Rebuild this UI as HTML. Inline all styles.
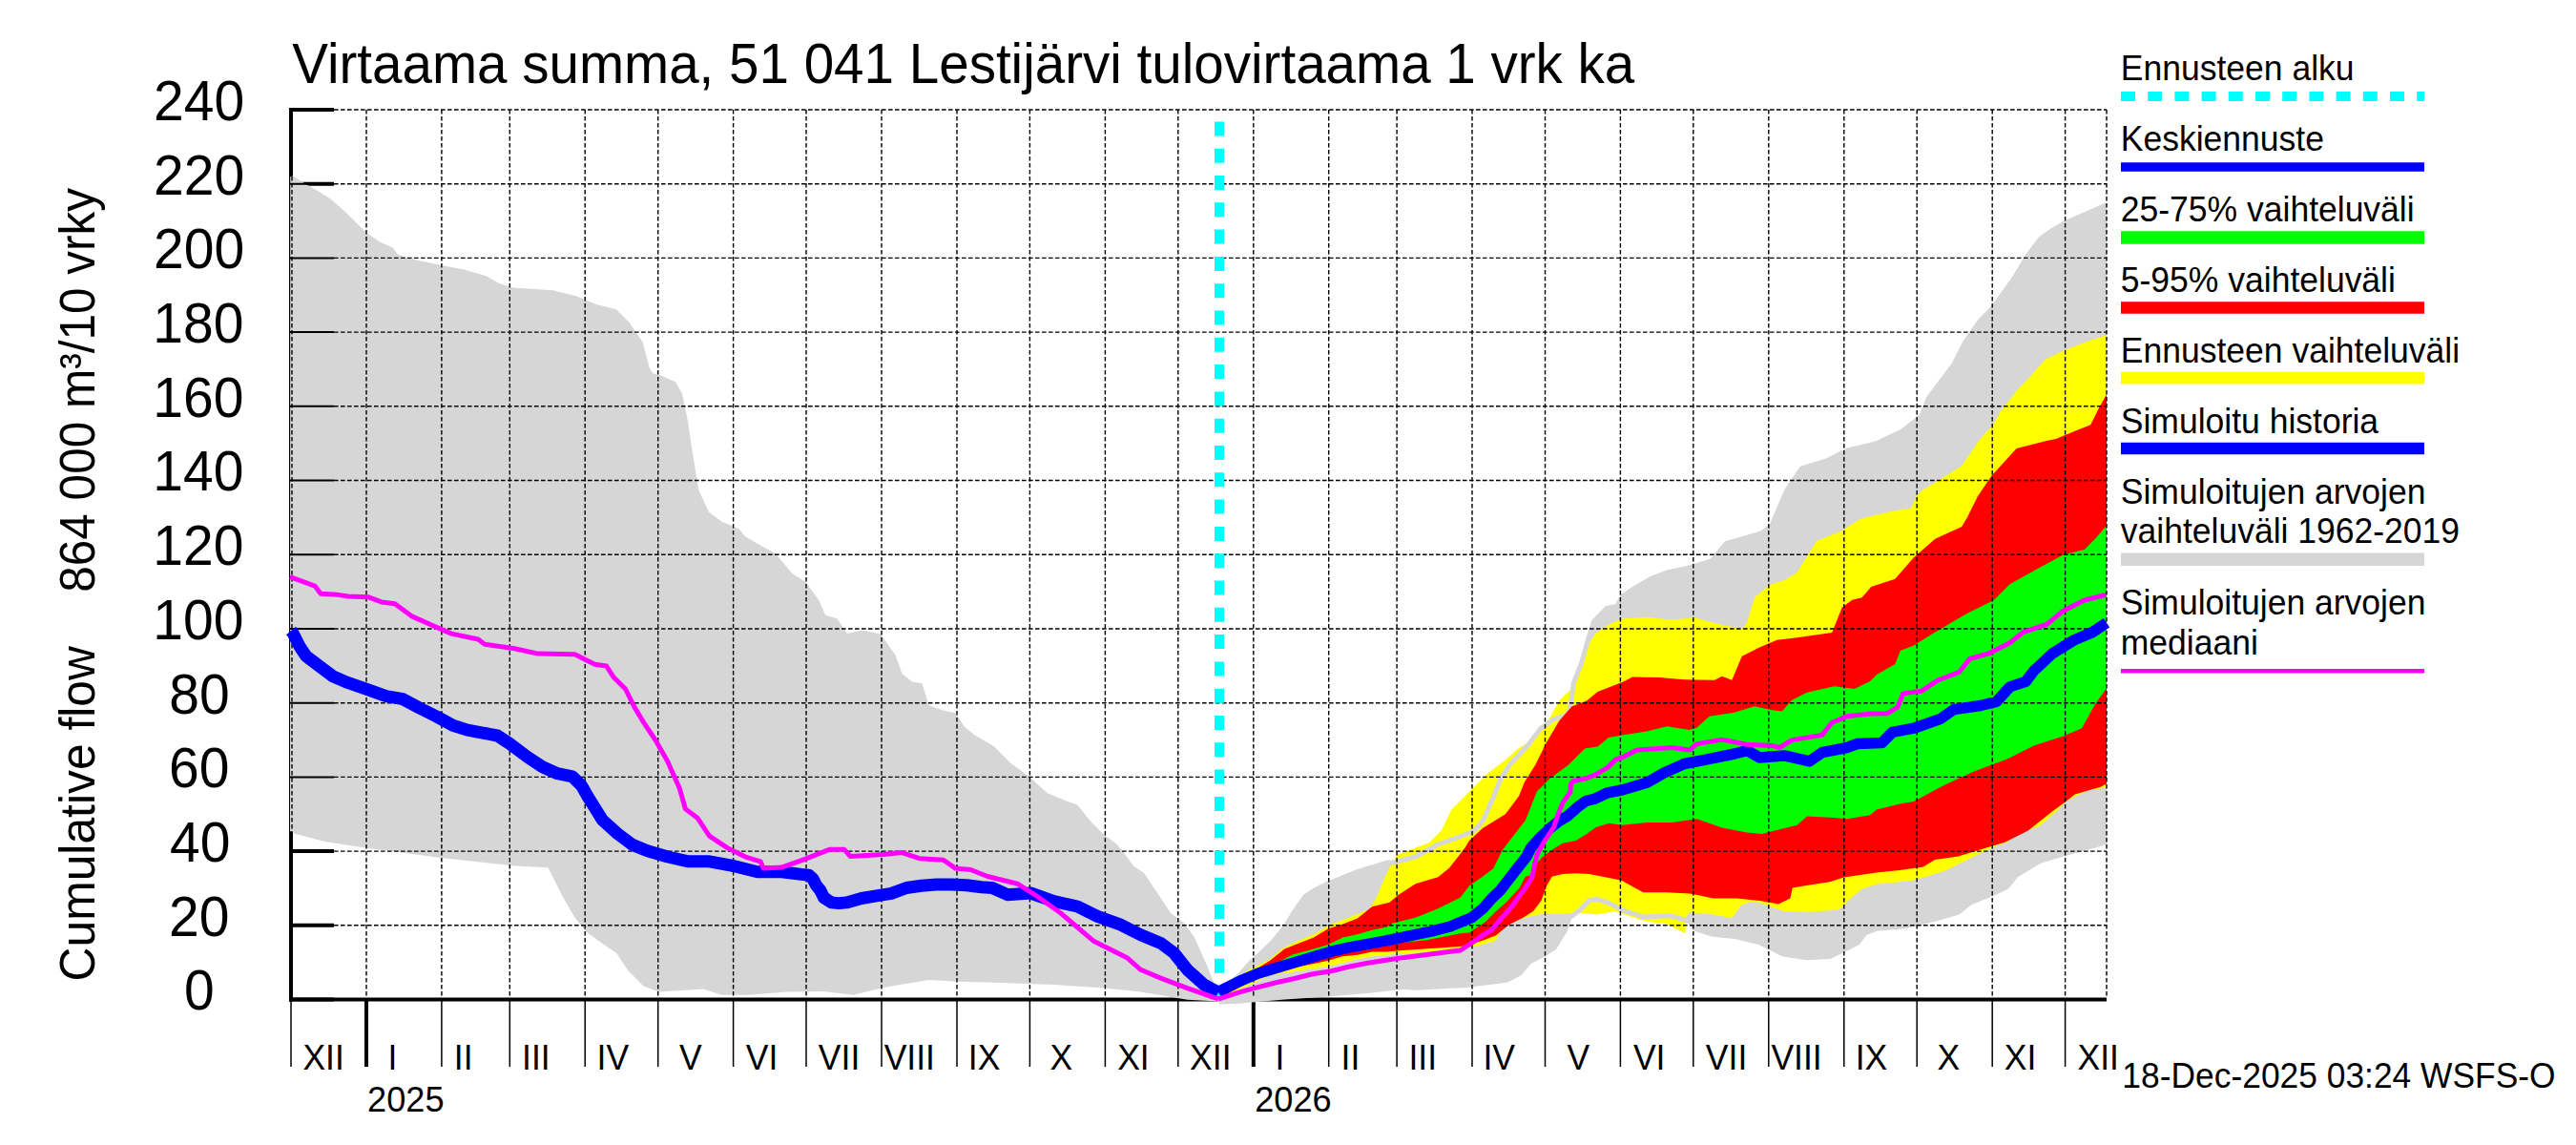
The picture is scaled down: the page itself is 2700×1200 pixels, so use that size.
<!DOCTYPE html><html><head><meta charset="utf-8"><title>Virtaama summa, 51 041 Lestijärvi</title><style>html,body{margin:0;padding:0;background:#fff;}svg{display:block;}text{font-family:"Liberation Sans",Arial,Helvetica,sans-serif;fill:#000;}</style></head><body>
<svg width="2700" height="1200" viewBox="0 0 2700 1200">
<rect width="2700" height="1200" fill="#fff"/>
<g stroke="#000" stroke-width="4" fill="none">
<line x1="305" y1="113" x2="305" y2="1049.5"/>
<line x1="303" y1="1047.5" x2="2208" y2="1047.5"/>
<line x1="303" y1="1047.5" x2="350" y2="1047.5"/>
<line x1="303" y1="969.8" x2="350" y2="969.8"/>
<line x1="303" y1="892.1" x2="350" y2="892.1"/>
<line x1="303" y1="814.4" x2="350" y2="814.4"/>
<line x1="303" y1="736.7" x2="350" y2="736.7"/>
<line x1="303" y1="659.0" x2="350" y2="659.0"/>
<line x1="303" y1="581.3" x2="350" y2="581.3"/>
<line x1="303" y1="503.5" x2="350" y2="503.5"/>
<line x1="303" y1="425.8" x2="350" y2="425.8"/>
<line x1="303" y1="348.1" x2="350" y2="348.1"/>
<line x1="303" y1="270.4" x2="350" y2="270.4"/>
<line x1="303" y1="192.7" x2="350" y2="192.7"/>
<line x1="303" y1="115.0" x2="350" y2="115.0"/>
<line x1="384.0" y1="1047.5" x2="384.0" y2="1118"/>
<line x1="1313.8" y1="1047.5" x2="1313.8" y2="1118"/>
</g>
<g stroke="#000" stroke-width="1.5">
<line x1="305.0" y1="1049" x2="305.0" y2="1118"/>
<line x1="462.9" y1="1049" x2="462.9" y2="1118"/>
<line x1="534.3" y1="1049" x2="534.3" y2="1118"/>
<line x1="613.2" y1="1049" x2="613.2" y2="1118"/>
<line x1="689.7" y1="1049" x2="689.7" y2="1118"/>
<line x1="768.6" y1="1049" x2="768.6" y2="1118"/>
<line x1="845.0" y1="1049" x2="845.0" y2="1118"/>
<line x1="924.0" y1="1049" x2="924.0" y2="1118"/>
<line x1="1003.0" y1="1049" x2="1003.0" y2="1118"/>
<line x1="1079.4" y1="1049" x2="1079.4" y2="1118"/>
<line x1="1158.4" y1="1049" x2="1158.4" y2="1118"/>
<line x1="1234.8" y1="1049" x2="1234.8" y2="1118"/>
<line x1="1392.7" y1="1049" x2="1392.7" y2="1118"/>
<line x1="1464.1" y1="1049" x2="1464.1" y2="1118"/>
<line x1="1543.0" y1="1049" x2="1543.0" y2="1118"/>
<line x1="1619.5" y1="1049" x2="1619.5" y2="1118"/>
<line x1="1698.4" y1="1049" x2="1698.4" y2="1118"/>
<line x1="1774.8" y1="1049" x2="1774.8" y2="1118"/>
<line x1="1853.8" y1="1049" x2="1853.8" y2="1118"/>
<line x1="1932.8" y1="1049" x2="1932.8" y2="1118"/>
<line x1="2009.2" y1="1049" x2="2009.2" y2="1118"/>
<line x1="2088.2" y1="1049" x2="2088.2" y2="1118"/>
<line x1="2164.6" y1="1049" x2="2164.6" y2="1118"/>
</g>
<polygon points="304.2,185.2 307.0,184.5 321.0,193.2 335.0,201.2 347.2,208.9 362.9,222.9 383.1,243.1 397.8,253.6 411.8,259.6 417.0,266.5 429.3,271.1 462.4,278.1 485.2,282.3 509.6,289.3 523.6,297.3 537.6,301.5 579.5,304.3 603.9,310.2 624.9,319.0 645.9,324.2 659.8,338.2 673.8,359.1 680.8,386.0 684.3,391.3 694.0,393.9 708.0,400.2 715.0,412.4 720.2,436.9 725.4,471.8 732.4,513.7 742.9,536.4 756.9,546.9 774.3,553.9 781.3,562.6 798.8,572.4 812.8,580.1 830.2,601.0 844.2,609.8 858.2,629.0 865.2,644.7 877.4,648.2 887.9,663.9 903.6,660.4 922.8,664.6 938.5,686.6 945.5,705.9 956.0,714.6 966.5,716.3 973.5,739.0 987.4,744.3 1001.4,747.2 1010.5,761.3 1021.0,770.0 1041.9,782.3 1059.4,799.7 1078.6,813.7 1097.8,831.2 1118.8,839.9 1129.3,843.4 1143.2,860.9 1157.2,874.8 1171.2,885.3 1188.6,908.0 1199.1,915.0 1213.1,936.0 1227.1,957.0 1241.0,967.4 1251.5,981.4 1265.5,1012.8 1276.0,1039.0 1278.0,1044.0 1290.0,1030.0 1300.6,1020.6 1311.3,1008.3 1323.5,997.6 1334.2,987.0 1347.9,970.1 1357.1,954.9 1367.8,939.6 1377.0,933.5 1392.2,925.8 1407.5,919.7 1422.8,913.6 1438.1,909.0 1453.3,904.0 1460.0,904.0 1483.6,898.0 1507.2,885.0 1530.8,876.8 1544.9,870.9 1554.3,860.3 1563.8,839.1 1573.2,815.5 1582.6,801.3 1601.5,781.0 1615.0,763.3 1628.4,753.7 1641.9,749.8 1645.7,742.1 1649.5,715.3 1657.2,696.0 1664.9,669.2 1670.7,651.0 1684.1,637.5 1694.7,635.5 1700.4,625.0 1714.9,615.4 1730.2,606.7 1747.2,600.0 1767.7,595.7 1793.9,587.8 1809.6,569.5 1846.3,559.0 1856.8,551.2 1872.5,514.5 1888.3,490.9 1914.5,483.0 1935.4,472.5 1966.9,464.7 1993.6,452.0 2014.1,436.2 2020.9,418.0 2048.1,381.7 2059.5,359.0 2075.4,336.2 2089.0,322.6 2100.3,306.7 2111.7,290.8 2125.3,268.1 2138.9,250.0 2150.3,242.0 2163.9,234.1 2184.4,225.0 2208.0,214.8 2208.0,882.7 2162.5,895.0 2138.1,902.3 2113.6,917.0 2103.8,929.2 2089.1,936.5 2064.7,946.3 2052.5,956.1 2028.0,963.4 1996.2,970.8 1966.9,973.2 1954.6,978.1 1947.3,987.9 1932.6,995.2 1918.0,1002.6 1893.5,1003.8 1869.0,1000.1 1844.6,987.9 1820.1,981.8 1795.7,979.3 1776.1,973.2 1771.2,965.9 1751.6,959.8 1722.3,961.0 1700.0,953.6 1686.7,946.6 1674.2,942.4 1665.8,943.8 1654.6,955.0 1644.8,962.0 1640.6,974.6 1629.4,992.8 1616.9,1001.1 1602.9,1008.1 1593.1,1020.0 1579.2,1027.3 1537.2,1032.5 1484.8,1035.2 1470.0,1034.3 1438.1,1038.1 1392.2,1042.0 1346.4,1045.0 1297.5,1049.3 1278.0,1050.0 1276.0,1049.5 1244.5,1047.8 1223.6,1044.3 1192.1,1039.0 1157.2,1035.6 1104.8,1032.0 1034.9,1029.6 1000.0,1028.6 973.1,1027.0 925.9,1034.9 894.5,1042.8 863.0,1039.0 825.3,1039.6 784.4,1042.8 756.1,1042.8 737.2,1036.5 690.1,1039.6 674.3,1033.3 658.6,1017.6 646.0,998.7 636.6,992.5 614.6,976.7 602.0,961.0 589.4,939.0 581.5,923.3 574.5,909.3 539.5,907.6 462.7,898.9 382.3,888.4 340.4,882.1 309.0,873.7 304.0,870.9" fill="#d6d6d6"/>
<polygon points="1278.0,1044.0 1300.6,1020.6 1315.8,1012.9 1331.1,1005.3 1343.3,994.6 1361.7,985.4 1377.0,979.3 1392.2,970.1 1407.5,964.0 1422.8,957.9 1435.0,953.3 1442.6,941.1 1448.8,925.8 1456.4,909.0 1464.7,895.7 1483.6,888.6 1497.9,883.2 1511.0,870.1 1521.3,848.5 1535.5,834.3 1559.1,810.8 1577.9,796.6 1590.0,785.4 1599.6,779.6 1610.9,768.3 1624.6,751.7 1634.2,734.5 1645.7,722.9 1655.0,700.0 1665.0,675.0 1672.6,663.4 1686.0,654.7 1700.0,648.5 1726.2,646.7 1752.4,649.8 1776.0,647.2 1799.6,653.7 1825.8,659.0 1831.1,652.4 1838.9,626.2 1854.7,613.1 1870.4,607.9 1883.5,600.0 1904.0,566.9 1930.2,556.4 1950.0,543.8 1978.0,536.8 2003.1,532.6 2008.7,520.0 2014.0,514.5 2035.0,501.4 2056.0,488.3 2075.4,460.0 2089.0,445.2 2098.1,429.3 2107.2,418.0 2116.2,406.6 2125.3,397.5 2143.5,377.1 2161.6,368.0 2184.4,359.0 2208.0,351.0 2208.0,825.2 2187.0,828.9 2165.0,839.9 2157.6,848.5 2138.1,865.6 2113.6,874.2 2103.8,882.7 2089.1,887.6 2064.7,899.8 2040.2,912.1 2020.7,918.2 2003.5,923.1 1966.9,926.7 1952.2,931.6 1942.4,939.0 1932.6,948.8 1927.7,953.6 1893.5,956.1 1869.0,954.9 1844.6,946.3 1834.8,945.1 1825.0,948.8 1815.2,962.2 1795.7,958.5 1771.2,956.1 1768.0,960.0 1766.3,978.1 1761.4,975.7 1746.7,968.3 1727.2,965.9 1710.1,961.0 1692.9,954.9 1673.4,958.5 1654.6,956.4 1637.8,957.8 1616.9,957.8 1602.9,960.6 1588.9,964.8 1574.9,971.8 1568.0,985.8 1554.0,990.0 1540.0,992.8 1530.8,996.0 1470.0,999.2 1453.3,1000.7 1438.1,1002.2 1422.8,1005.3 1392.2,1012.9 1361.7,1017.5 1331.1,1022.1 1278.0,1047.0" fill="#ffff00"/>
<polyline points="1278.0,1044.0 1290.0,1030.0 1300.6,1020.6 1311.3,1008.3 1323.5,997.6 1334.2,987.0 1347.9,970.1 1357.1,954.9 1367.8,939.6 1377.0,933.5 1392.2,925.8 1407.5,919.7 1422.8,913.6 1438.1,909.0 1453.3,904.0 1460.0,904.0 1483.6,898.0 1507.2,885.0 1530.8,876.8 1544.9,870.9 1554.3,860.3 1563.8,839.1 1573.2,815.5 1582.6,801.3 1601.5,781.0 1615.0,763.3 1628.4,753.7 1641.9,749.8 1645.7,742.1 1649.5,715.3 1657.2,696.0 1664.9,669.2 1670.7,651.0 1684.1,637.5 1694.7,635.5 1700.4,625.0 1714.9,615.4 1730.2,606.7 1747.2,600.0 1767.7,595.7 1793.9,587.8 1809.6,569.5 1846.3,559.0 1856.8,551.2 1872.5,514.5 1888.3,490.9 1914.5,483.0 1935.4,472.5 1966.9,464.7 1993.6,452.0 2014.1,436.2 2020.9,418.0 2048.1,381.7 2059.5,359.0 2075.4,336.2 2089.0,322.6 2100.3,306.7 2111.7,290.8 2125.3,268.1 2138.9,250.0 2150.3,242.0 2163.9,234.1 2184.4,225.0 2208.0,214.8" fill="none" stroke="#d6d6d6" stroke-width="5" stroke-linejoin="round"/>
<polyline points="1278.0,1050.0 1297.5,1049.3 1346.4,1045.0 1392.2,1042.0 1438.1,1038.1 1470.0,1034.3 1484.8,1035.2 1537.2,1032.5 1579.2,1027.3 1593.1,1020.0 1602.9,1008.1 1616.9,1001.1 1629.4,992.8 1640.6,974.6 1644.8,962.0 1654.6,955.0 1665.8,943.8 1674.2,942.4 1686.7,946.6 1700.0,953.6 1722.3,961.0 1751.6,959.8 1771.2,965.9 1776.1,973.2 1795.7,979.3 1820.1,981.8 1844.6,987.9 1869.0,1000.1 1893.5,1003.8 1918.0,1002.6 1932.6,995.2 1947.3,987.9 1954.6,978.1 1966.9,973.2 1996.2,970.8 2028.0,963.4 2052.5,956.1 2064.7,946.3 2089.1,936.5 2103.8,929.2 2113.6,917.0 2138.1,902.3 2162.5,895.0 2208.0,882.7" fill="none" stroke="#d6d6d6" stroke-width="5" stroke-linejoin="round"/>
<polygon points="1278.0,1044.0 1300.0,1025.0 1315.8,1016.0 1331.1,1006.8 1346.4,994.6 1361.7,988.5 1377.0,982.4 1392.2,973.2 1407.5,968.6 1422.8,962.5 1438.1,950.3 1456.4,945.7 1465.6,938.1 1483.6,926.3 1507.2,919.2 1519.0,909.8 1535.5,888.6 1540.0,881.0 1554.0,868.0 1577.9,853.2 1592.1,834.3 1597.7,820.0 1609.2,801.7 1620.7,778.6 1634.2,755.6 1647.6,740.2 1663.0,734.5 1674.5,724.9 1689.9,719.1 1701.4,714.5 1711.0,709.5 1739.3,710.1 1765.5,712.2 1797.0,712.7 1804.9,708.8 1815.3,712.7 1825.8,687.8 1844.2,678.6 1862.5,670.8 1883.5,668.2 1920.2,662.9 1930.7,636.7 1941.2,628.8 1951.6,626.2 1961.2,615.0 1986.3,606.7 2005.9,584.3 2028.3,564.7 2056.2,552.1 2061.8,542.4 2073.0,520.0 2087.4,498.7 2113.6,469.9 2145.1,462.1 2154.8,460.0 2179.8,449.8 2191.2,445.2 2200.3,427.1 2208.0,413.4 2208.0,821.6 2201.6,824.7 2174.8,832.6 2165.3,840.0 2150.3,850.9 2125.8,870.5 2101.4,882.7 2076.9,890.1 2052.5,897.4 2028.0,901.1 2015.8,908.4 1991.3,912.1 1966.9,914.5 1932.6,919.4 1918.0,924.3 1893.5,928.0 1878.8,930.4 1876.4,941.4 1864.1,947.5 1844.6,943.9 1820.1,941.4 1795.7,941.4 1771.2,936.5 1746.7,935.3 1722.3,935.3 1700.0,922.9 1693.7,921.5 1679.7,918.7 1665.8,915.9 1651.8,915.2 1637.8,915.9 1626.6,918.7 1621.0,928.5 1615.5,943.8 1607.1,955.0 1595.9,962.0 1581.9,969.0 1568.0,980.2 1554.0,985.8 1540.0,990.0 1530.8,992.0 1470.0,996.1 1453.3,997.6 1438.1,997.6 1422.8,1000.7 1407.5,1002.2 1392.2,1006.8 1377.0,1009.9 1361.7,1012.9 1346.4,1017.5 1323.5,1022.1 1278.0,1046.0" fill="#ff0000"/>
<polygon points="1278.0,1044.0 1300.0,1030.0 1354.0,1000.7 1377.0,994.6 1392.2,990.0 1407.5,982.4 1422.8,979.3 1438.1,974.7 1453.3,971.7 1460.0,967.6 1483.6,961.7 1507.2,952.3 1530.8,940.5 1540.0,928.5 1554.0,918.7 1565.2,910.3 1574.9,890.7 1588.9,872.6 1598.7,860.0 1601.5,853.2 1610.9,829.6 1625.1,815.5 1643.8,801.7 1661.1,784.4 1674.5,782.5 1686.0,772.9 1700.0,770.4 1726.2,766.4 1747.2,761.2 1770.8,765.1 1778.6,762.5 1791.7,750.7 1818.0,746.8 1838.9,740.2 1857.3,744.2 1867.8,745.5 1878.2,733.7 1894.0,725.8 1922.8,719.3 1943.8,721.9 1960.0,714.0 1966.8,707.3 1986.3,696.1 1991.9,682.1 2005.9,676.6 2028.3,662.6 2042.3,654.2 2061.8,643.0 2089.8,629.0 2106.6,612.3 2131.7,598.3 2162.5,581.5 2184.8,575.9 2196.0,564.7 2208.0,550.8 2208.0,721.3 2196.0,738.1 2182.0,763.2 2162.5,771.6 2131.7,781.4 2103.8,795.4 2070.2,808.0 2039.5,821.9 2005.9,840.0 1991.3,842.4 1966.9,848.5 1960.0,854.3 1935.9,858.2 1922.8,856.9 1894.0,855.6 1883.5,864.7 1857.3,871.3 1846.8,873.9 1831.1,872.6 1804.9,867.4 1778.6,858.2 1752.4,862.1 1726.2,862.1 1700.0,864.7 1686.7,862.8 1672.8,867.0 1663.0,874.0 1651.8,881.0 1637.8,883.8 1630.8,887.9 1623.8,892.8 1615.5,899.1 1609.9,906.1 1604.3,917.3 1598.7,918.7 1593.1,929.9 1579.1,945.2 1568.0,955.0 1556.8,966.2 1540.0,977.4 1530.8,978.2 1495.4,985.3 1470.0,987.7 1453.3,990.0 1438.1,993.1 1422.8,995.4 1407.5,997.6 1377.0,1003.8 1300.0,1032.0 1278.0,1045.0" fill="#00ff00"/>
<g stroke="#000" stroke-width="1.4" stroke-dasharray="4.6 2.4" fill="none">
<line x1="350" y1="969.8" x2="2208" y2="969.8"/>
<line x1="350" y1="892.1" x2="2208" y2="892.1"/>
<line x1="350" y1="814.4" x2="2208" y2="814.4"/>
<line x1="350" y1="736.7" x2="2208" y2="736.7"/>
<line x1="350" y1="659.0" x2="2208" y2="659.0"/>
<line x1="350" y1="581.3" x2="2208" y2="581.3"/>
<line x1="350" y1="503.5" x2="2208" y2="503.5"/>
<line x1="350" y1="425.8" x2="2208" y2="425.8"/>
<line x1="350" y1="348.1" x2="2208" y2="348.1"/>
<line x1="350" y1="270.4" x2="2208" y2="270.4"/>
<line x1="350" y1="192.7" x2="2208" y2="192.7"/>
<line x1="350" y1="115.0" x2="2208" y2="115.0"/>
<line x1="384.0" y1="115" x2="384.0" y2="1046"/>
<line x1="462.9" y1="115" x2="462.9" y2="1046"/>
<line x1="534.3" y1="115" x2="534.3" y2="1046"/>
<line x1="613.2" y1="115" x2="613.2" y2="1046"/>
<line x1="689.7" y1="115" x2="689.7" y2="1046"/>
<line x1="768.6" y1="115" x2="768.6" y2="1046"/>
<line x1="845.0" y1="115" x2="845.0" y2="1046"/>
<line x1="924.0" y1="115" x2="924.0" y2="1046"/>
<line x1="1003.0" y1="115" x2="1003.0" y2="1046"/>
<line x1="1079.4" y1="115" x2="1079.4" y2="1046"/>
<line x1="1158.4" y1="115" x2="1158.4" y2="1046"/>
<line x1="1234.8" y1="115" x2="1234.8" y2="1046"/>
<line x1="1313.8" y1="115" x2="1313.8" y2="1046"/>
<line x1="1392.7" y1="115" x2="1392.7" y2="1046"/>
<line x1="1464.1" y1="115" x2="1464.1" y2="1046"/>
<line x1="1543.0" y1="115" x2="1543.0" y2="1046"/>
<line x1="1619.5" y1="115" x2="1619.5" y2="1046"/>
<line x1="1698.4" y1="115" x2="1698.4" y2="1046"/>
<line x1="1774.8" y1="115" x2="1774.8" y2="1046"/>
<line x1="1853.8" y1="115" x2="1853.8" y2="1046"/>
<line x1="1932.8" y1="115" x2="1932.8" y2="1046"/>
<line x1="2009.2" y1="115" x2="2009.2" y2="1046"/>
<line x1="2088.2" y1="115" x2="2088.2" y2="1046"/>
<line x1="2164.6" y1="115" x2="2164.6" y2="1046"/>
<line x1="2208" y1="115" x2="2208" y2="1046"/>
<line x1="306" y1="115" x2="306" y2="1046"/>
</g>
<g stroke="#000" stroke-width="2">
<line x1="303" y1="1047.5" x2="350" y2="1047.5"/>
<line x1="303" y1="969.8" x2="350" y2="969.8"/>
<line x1="303" y1="892.1" x2="350" y2="892.1"/>
<line x1="303" y1="814.4" x2="350" y2="814.4"/>
<line x1="303" y1="736.7" x2="350" y2="736.7"/>
<line x1="303" y1="659.0" x2="350" y2="659.0"/>
<line x1="303" y1="581.3" x2="350" y2="581.3"/>
<line x1="303" y1="503.5" x2="350" y2="503.5"/>
<line x1="303" y1="425.8" x2="350" y2="425.8"/>
<line x1="303" y1="348.1" x2="350" y2="348.1"/>
<line x1="303" y1="270.4" x2="350" y2="270.4"/>
<line x1="303" y1="192.7" x2="350" y2="192.7"/>
<line x1="303" y1="115.0" x2="350" y2="115.0"/>
</g>
<line x1="1278" y1="1048" x2="1278" y2="115" stroke="#00ffff" stroke-width="10" stroke-dasharray="15 13.3"/>
<polyline points="305.0,661.0 307.0,663.4 314.0,677.3 321.0,687.8 334.9,698.3 348.9,708.8 362.9,714.9 383.8,722.2 404.8,729.7 422.3,732.7 439.7,742.0 457.2,750.7 474.7,760.3 490.0,765.1 521.4,771.0 534.0,779.3 552.9,793.4 568.6,803.7 584.3,810.7 600.0,813.9 609.5,823.3 615.7,834.3 623.6,846.9 631.5,859.5 647.2,873.6 662.9,885.4 678.6,891.7 700.0,898.0 721.5,902.8 743.5,902.8 768.7,907.5 793.8,913.8 819.0,913.8 840.0,916.4 847.9,917.2 852.0,921.0 855.7,928.2 859.7,933.0 863.6,940.8 871.4,945.9 879.3,946.6 887.2,945.9 902.9,941.5 918.6,938.8 934.3,936.4 950.1,930.5 965.8,928.2 981.5,927.0 997.2,927.0 1013.0,927.8 1028.7,929.7 1040.0,930.5 1055.9,937.7 1080.3,936.0 1104.8,944.7 1129.3,950.0 1150.2,960.4 1174.7,969.2 1195.6,979.7 1216.6,988.4 1230.6,998.9 1244.5,1016.3 1262.0,1032.0 1277.0,1040.0" fill="none" stroke="#0000ff" stroke-width="13" stroke-linejoin="round"/>
<polyline points="1277.0,1040.0 1280.0,1038.0 1299.2,1028.4 1318.4,1020.3 1337.6,1014.5 1356.8,1008.7 1376.0,1003.0 1395.3,997.2 1414.5,992.8 1433.7,989.3 1452.9,985.8 1472.0,981.8 1500.0,976.1 1520.0,971.0 1542.5,961.7 1555.0,951.6 1563.7,941.5 1572.4,933.3 1581.1,921.9 1589.9,910.6 1600.0,897.9 1604.6,888.5 1614.2,877.9 1623.8,868.8 1633.4,861.0 1643.0,855.3 1652.6,846.7 1662.2,839.5 1671.8,837.1 1685.0,830.8 1700.0,828.0 1726.2,820.2 1744.6,809.7 1765.5,800.5 1791.7,795.3 1818.0,790.0 1831.1,786.6 1844.2,794.0 1870.4,791.9 1896.6,797.9 1909.7,788.7 1935.9,783.5 1946.4,779.6 1972.4,778.6 1983.5,767.4 2005.9,763.2 2033.9,753.4 2047.8,743.6 2075.8,739.5 2092.6,735.3 2106.6,719.9 2123.3,714.3 2131.7,703.1 2151.3,684.9 2173.6,671.0 2193.2,662.6 2208.0,652.8" fill="none" stroke="#0000ff" stroke-width="11.5" stroke-linejoin="round"/>
<polyline points="304.0,604.7 330.0,614.1 336.2,622.2 350.9,622.9 364.9,625.0 385.8,625.7 399.8,630.9 413.8,632.7 431.2,645.6 452.2,655.0 473.2,664.1 501.1,670.0 508.1,675.3 539.5,679.8 564.0,685.1 602.4,685.8 623.4,696.2 635.6,698.0 642.9,709.4 655.5,722.0 664.9,740.9 674.3,756.6 686.9,775.5 699.5,797.5 712.1,825.8 718.4,847.8 731.0,857.2 743.5,876.1 762.4,888.7 781.3,898.1 797.0,902.8 800.1,910.1 819.0,909.1 841.0,901.3 869.3,890.3 885.0,890.3 891.3,897.5 925.9,895.6 944.8,893.4 963.6,899.7 988.8,901.3 1001.4,910.1 1017.5,911.5 1035.0,918.5 1066.4,926.2 1087.3,939.5 1111.8,957.0 1146.7,986.6 1181.7,1004.1 1195.6,1016.3 1216.6,1025.1 1244.5,1035.6 1277.0,1047.0" fill="none" stroke="#ff00ff" stroke-width="5" stroke-linejoin="round"/>
<polyline points="1277.0,1047.0 1285.3,1044.3 1299.2,1039.9 1318.4,1034.6 1337.6,1029.8 1356.8,1025.5 1376.0,1020.7 1395.3,1017.8 1414.5,1013.0 1433.7,1009.2 1452.9,1006.3 1472.1,1003.4 1495.4,1000.6 1530.8,995.9 1540.0,990.0 1555.0,979.6 1563.7,974.3 1572.4,963.8 1581.1,954.2 1589.9,942.9 1598.6,930.7 1605.7,920.1 1608.5,906.1 1611.3,894.9 1619.0,881.3 1628.6,866.8 1633.4,852.4 1638.2,840.9 1645.9,830.3 1646.5,821.7 1648.8,818.8 1662.2,815.9 1671.8,812.1 1685.0,804.4 1693.7,795.9 1700.0,794.0 1715.7,786.1 1752.4,783.5 1770.8,786.1 1778.6,779.6 1804.9,775.1 1831.1,780.3 1857.3,781.4 1865.1,783.5 1878.2,775.6 1909.7,770.4 1920.2,757.3 1935.9,750.7 1960.0,748.1 1978.0,747.8 1989.1,740.9 1994.7,726.9 2014.3,724.1 2031.1,712.9 2053.4,704.5 2064.6,690.5 2084.2,684.9 2106.6,673.8 2120.5,662.6 2145.7,654.2 2162.5,640.2 2184.8,629.0 2207.2,623.4" fill="none" stroke="#ff00ff" stroke-width="5" stroke-linejoin="round"/>
<text transform="translate(306.23,86.80) scale(1.0000,1.0500)" font-size="56.56">Virtaama summa, 51 041 Lestijärvi tulovirtaama 1 vrk ka</text>
<text transform="translate(193.04,1058.40) scale(1.0000,1.0300)" font-size="57">0</text>
<text transform="translate(177.08,980.69) scale(1.0000,1.0300)" font-size="57">20</text>
<text transform="translate(177.94,902.98) scale(1.0000,1.0300)" font-size="57">40</text>
<text transform="translate(177.08,825.28) scale(1.0000,1.0300)" font-size="57">60</text>
<text transform="translate(177.37,747.57) scale(1.0000,1.0300)" font-size="57">80</text>
<text transform="translate(160.27,669.86) scale(1.0000,1.0300)" font-size="57">100</text>
<text transform="translate(160.27,592.15) scale(1.0000,1.0300)" font-size="57">120</text>
<text transform="translate(160.27,514.44) scale(1.0000,1.0300)" font-size="57">140</text>
<text transform="translate(160.27,436.74) scale(1.0000,1.0300)" font-size="57">160</text>
<text transform="translate(160.27,359.03) scale(1.0000,1.0300)" font-size="57">180</text>
<text transform="translate(161.12,281.32) scale(1.0000,1.0300)" font-size="57">200</text>
<text transform="translate(161.12,203.61) scale(1.0000,1.0300)" font-size="57">220</text>
<text transform="translate(161.12,125.90) scale(1.0000,1.0300)" font-size="57">240</text>
<text transform="translate(99.30,620.78) rotate(-90) scale(1,1.03)" font-size="49.53">864 000 m³/10 vrky</text>
<text transform="translate(99.30,1028.49) rotate(-90) scale(1,1.03)" font-size="49.80">Cumulative flow</text>
<text transform="translate(317.46,1120.80) scale(1.0000,1.0550)" font-size="35.5">XII</text>
<text transform="translate(406.53,1120.80) scale(1.0000,1.0550)" font-size="35.5">I</text>
<text transform="translate(475.84,1120.80) scale(1.0000,1.0550)" font-size="35.5">II</text>
<text transform="translate(547.07,1120.80) scale(1.0000,1.0550)" font-size="35.5">III</text>
<text transform="translate(625.52,1120.80) scale(1.0000,1.0550)" font-size="35.5">IV</text>
<text transform="translate(712.11,1120.80) scale(1.0000,1.0550)" font-size="35.5">V</text>
<text transform="translate(781.74,1120.80) scale(1.0000,1.0550)" font-size="35.5">VI</text>
<text transform="translate(857.87,1120.80) scale(1.0000,1.0550)" font-size="35.5">VII</text>
<text transform="translate(926.69,1120.80) scale(1.0000,1.0550)" font-size="35.5">VIII</text>
<text transform="translate(1014.87,1120.80) scale(1.0000,1.0550)" font-size="35.5">IX</text>
<text transform="translate(1100.51,1120.80) scale(1.0000,1.0550)" font-size="35.5">X</text>
<text transform="translate(1171.18,1120.80) scale(1.0000,1.0550)" font-size="35.5">XI</text>
<text transform="translate(1247.11,1120.80) scale(1.0000,1.0550)" font-size="35.5">XII</text>
<text transform="translate(1336.43,1120.80) scale(1.0000,1.0550)" font-size="35.5">I</text>
<text transform="translate(1405.54,1120.80) scale(1.0000,1.0550)" font-size="35.5">II</text>
<text transform="translate(1476.47,1120.80) scale(1.0000,1.0550)" font-size="35.5">III</text>
<text transform="translate(1554.42,1120.80) scale(1.0000,1.0550)" font-size="35.5">IV</text>
<text transform="translate(1642.61,1120.80) scale(1.0000,1.0550)" font-size="35.5">V</text>
<text transform="translate(1711.93,1120.80) scale(1.0000,1.0550)" font-size="35.5">VI</text>
<text transform="translate(1787.87,1120.80) scale(1.0000,1.0550)" font-size="35.5">VII</text>
<text transform="translate(1856.39,1120.80) scale(1.0000,1.0550)" font-size="35.5">VIII</text>
<text transform="translate(1944.67,1120.80) scale(1.0000,1.0550)" font-size="35.5">IX</text>
<text transform="translate(2030.51,1120.80) scale(1.0000,1.0550)" font-size="35.5">X</text>
<text transform="translate(2100.78,1120.80) scale(1.0000,1.0550)" font-size="35.5">XI</text>
<text transform="translate(2177.51,1120.80) scale(1.0000,1.0550)" font-size="35.5">XII</text>
<text transform="translate(385.09,1164.80) scale(1.0000,1.0000)" font-size="36.15">2025</text>
<text transform="translate(1315.19,1164.80) scale(1.0000,1.0000)" font-size="36.15">2026</text>
<text transform="translate(2224.37,1139.80) scale(1.0000,1.0390)" font-size="35.39">18-Dec-2025 03:24 WSFS-O</text>
<text transform="translate(2222.8,84.1) scale(1,1.06)" font-size="35.5">Ennusteen alku</text>
<line x1="2223" y1="101" x2="2541" y2="101" stroke="#00ffff" stroke-width="9.9" stroke-dasharray="15 13.2"/>
<text transform="translate(2222.8,157.9) scale(1,1.06)" font-size="35.5">Keskiennuste</text>
<line x1="2223" y1="175" x2="2541" y2="175" stroke="#0000ff" stroke-width="9.7"/>
<text transform="translate(2222.8,232.2) scale(1,1.06)" font-size="35.5">25-75% vaihteluväli</text>
<line x1="2223" y1="249" x2="2541" y2="249" stroke="#00ff00" stroke-width="13.5"/>
<text transform="translate(2222.8,306.4) scale(1,1.06)" font-size="35.5">5-95% vaihteluväli</text>
<line x1="2223" y1="322.4" x2="2541" y2="322.4" stroke="#ff0000" stroke-width="12.5"/>
<text transform="translate(2222.8,379.8) scale(1,1.06)" font-size="35.5">Ennusteen vaihteluväli</text>
<line x1="2223" y1="396.1" x2="2541" y2="396.1" stroke="#ffff00" stroke-width="12.6"/>
<text transform="translate(2222.8,453.8) scale(1,1.06)" font-size="35.5">Simuloitu historia</text>
<line x1="2223" y1="470" x2="2541" y2="470" stroke="#0000ff" stroke-width="12.6"/>
<text transform="translate(2222.8,528) scale(1,1.06)" font-size="35.5">Simuloitujen arvojen</text>
<text transform="translate(2222.8,568.9) scale(1,1.06)" font-size="35.5">vaihteluväli 1962-2019</text>
<line x1="2223" y1="586.3" x2="2541" y2="586.3" stroke="#d6d6d6" stroke-width="13.5"/>
<text transform="translate(2222.8,643.5) scale(1,1.06)" font-size="35.5">Simuloitujen arvojen</text>
<text transform="translate(2222.8,685.5) scale(1,1.06)" font-size="35.5">mediaani</text>
<line x1="2223" y1="703.3" x2="2541" y2="703.3" stroke="#ff00ff" stroke-width="4.6"/>
</svg></body></html>
